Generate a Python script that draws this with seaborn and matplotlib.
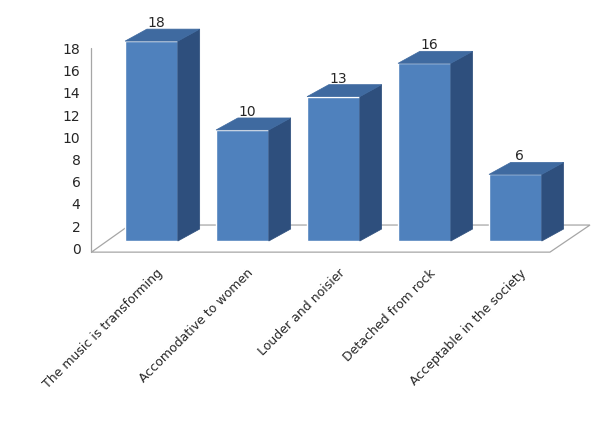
import matplotlib
matplotlib.use("Agg")
import matplotlib.pyplot as plt
import seaborn as sns
from matplotlib.patches import Polygon

categories = ["The music is transforming", "Accomodative to women",
              "Louder and noisier", "Detached from rock", "Acceptable in the society"]
values = [18, 10, 13, 16, 6]
ticks = [0, 2, 4, 6, 8, 10, 12, 14, 16, 18]

front = "#4F81BD"
side = "#2E4F7D"
top = "#3F6AA0"
dx, dy = 0.24, 1.08       # depth offset of the 3D look (data units)
tick_shift = -0.8         # tick labels sit on the back wall

sns.set_style("white")
plt.rcParams["font.family"] = ["DejaVu Sans"]
fig = plt.figure(figsize=(6.15, 4.21), dpi=100)
ax = fig.add_axes([0.0976, 0.3705, 0.878, 0.582])

sns.barplot(x=list(range(len(values))), y=values, color=front, width=0.58,
            saturation=1, native_scale=True, ax=ax, zorder=2)
bars = list(ax.containers[0])

# floor and wall edge
ax.add_patch(Polygon([(-0.66, -1.0), (4.38, -1.0), (4.82, 1.44), (-0.24, 1.44)],
                     closed=True, facecolor="white", edgecolor="#A6A6A6", lw=0.9, zorder=0))
ax.plot([-0.66, -0.66], [-1.0, 17.4], color="#A6A6A6", lw=0.9, zorder=0)

for p, v in zip(bars, values):
    x0, w, h = p.get_x(), p.get_width(), p.get_height()
    x1 = x0 + w
    ax.add_patch(Polygon([(x1, 0), (x1 + dx, dy), (x1 + dx, h + dy), (x1, h)],
                         closed=True, facecolor=side, edgecolor=side, lw=0.5, zorder=2))
    ax.add_patch(Polygon([(x0, h), (x0 + dx, h + dy), (x1 + dx, h + dy), (x1, h)],
                         closed=True, facecolor=top, edgecolor=top, lw=0.5, zorder=2))
    ax.text(x0 + w / 2 + 0.05, h + 1.0, str(v), ha="center", va="bottom", fontsize=10)

for t in ticks:
    ax.text(-0.78, t + tick_shift, str(t), ha="right", va="center", fontsize=10)

for i, c in enumerate(categories):
    ax.text(i + 0.05, -2.3, c, rotation=45, ha="right", va="top", fontsize=9,
            rotation_mode="anchor", clip_on=False)

ax.set_xlim(-1.005, 4.93)
ax.set_ylim(-2.16, 19.9)
ax.set_axis_off()
fig.savefig("out.png", dpi=100)
